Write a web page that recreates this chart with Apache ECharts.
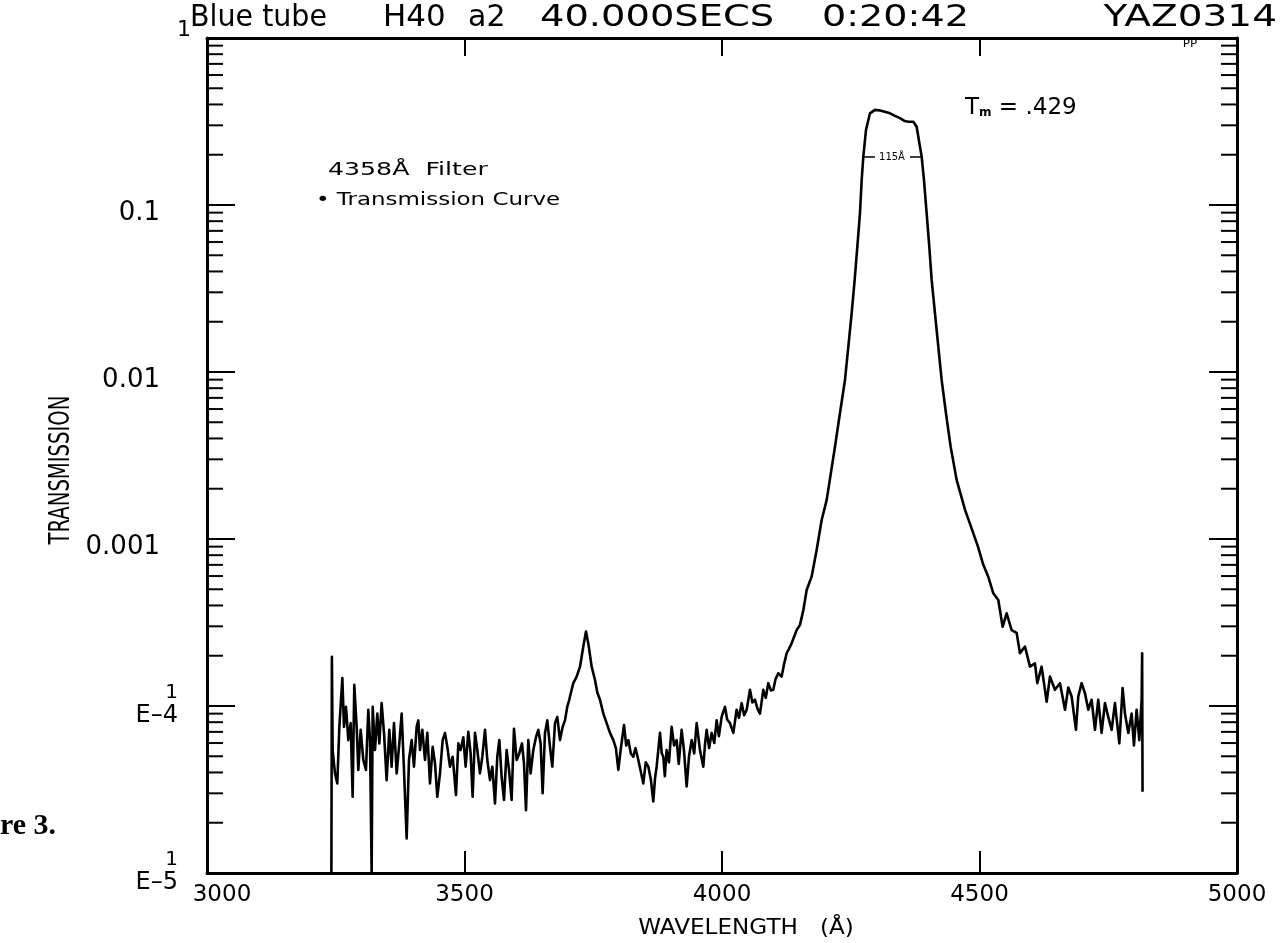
<!DOCTYPE html>
<html>
<head>
<meta charset="utf-8">
<title>4358 Å filter transmission</title>
<script src="https://cdn.jsdelivr.net/npm/echarts@6/dist/echarts.min.js"></script>
<style>
html, body { margin: 0; padding: 0; background: #fff; }
#chart { width: 1281px; height: 943px; }
</style>
</head>
<body>
<div id="chart"></div>
<script>
// axis ticks
const xTickValues = [3000, 3500, 4000, 4500, 5000];
const xTickLabels = ['3000', '3500', '4000', '4500', '5000'];
const yTickExponents = [-5, -4, -3, -2, -1, 0];
const yTickLabels = ['E–5', 'E–4', '0.001', '0.01', '0.1', '1'];
const minorMultipliers = [2, 3, 4, 5, 6, 7, 8, 9];
const decades = [1e-5, 1e-4, 1e-3, 1e-2, 1e-1];

// spectrum, [wavelength (Å), transmission]
const blueNoise = [
  [3241.5, 1.0e-5], [3242.5, 1.97e-4], [3244, 5.4e-5], [3248.5, 3.95e-5], [3253, 3.44e-5],
  [3257, 7.5e-5], [3262.8, 1.47e-4], [3266, 7.5e-5], [3269.9, 9.9e-5], [3274.4, 6.25e-5],
  [3279, 7.9e-5], [3282.8, 2.86e-5], [3286, 1.34e-4], [3290.6, 7.5e-5], [3293.8, 4.14e-5],
  [3298.4, 7.2e-5], [3303.5, 4.75e-5], [3308.7, 4.14e-5], [3313.2, 9.5e-5], [3316.5, 6.25e-5],
  [3319.7, 1.0e-5], [3321.7, 9.9e-5], [3326.2, 5.45e-5], [3330.7, 9.0e-5], [3334.6, 5.97e-5],
  [3339.1, 1.04e-4], [3343.7, 6.9e-5], [3348.8, 3.6e-5], [3354, 7.2e-5], [3358.5, 4.33e-5],
  [3363.1, 7.9e-5], [3368.3, 3.95e-5], [3373.4, 5.97e-5], [3378, 9.0e-5], [3382.5, 4.14e-5],
  [3387.7, 1.61e-5], [3392.2, 4.75e-5], [3397.4, 6.25e-5], [3401.9, 4.33e-5], [3407.1, 7.5e-5],
  [3410.3, 8.2e-5], [3413.6, 5.45e-5], [3418.1, 7.2e-5], [3423.3, 4.75e-5], [3427.8, 6.9e-5],
  [3433, 3.44e-5], [3438.2, 5.7e-5], [3442.7, 4.54e-5], [3447.2, 2.86e-5], [3452.4, 3.95e-5],
  [3457.6, 6.25e-5], [3462.1, 6.9e-5], [3466.6, 5.7e-5], [3471.8, 4.33e-5], [3477, 4.97e-5],
  [3483.5, 2.93e-5], [3488, 5.97e-5], [3492.5, 5.45e-5], [3497.7, 6.5e-5], [3502.2, 4.33e-5],
  [3507.4, 7.0e-5], [3511.9, 5.2e-5], [3515.8, 2.86e-5], [3520.4, 6.9e-5], [3524.9, 5.45e-5],
  [3530, 3.95e-5], [3534.6, 4.97e-5], [3539.8, 7.2e-5], [3544.3, 4.75e-5], [3549.5, 3.6e-5],
  [3554, 4.33e-5], [3559.2, 2.61e-5], [3563.7, 4.97e-5], [3567.6, 6.25e-5], [3572.1, 3.77e-5],
  [3576.7, 2.74e-5], [3581.8, 5.45e-5], [3586.4, 4.14e-5], [3591.5, 2.74e-5], [3596.1, 7.3e-5],
  [3601.3, 4.75e-5], [3606.4, 5.2e-5], [3611.6, 5.97e-5], [3615.5, 4.54e-5], [3619.4, 2.38e-5],
  [3623.9, 6.25e-5], [3628.4, 3.95e-5], [3633.6, 5.45e-5], [3638.8, 6.5e-5], [3643.3, 7.2e-5],
  [3647.8, 5.97e-5], [3651.7, 3.0e-5], [3656.3, 6.9e-5], [3660.8, 8.2e-5], [3666, 5.7e-5],
  [3670.5, 4.33e-5], [3675.7, 7.9e-5], [3680.2, 8.6e-5], [3685.4, 6.25e-5], [3690.6, 7.5e-5],
  [3695.1, 8.2e-5], [3699.6, 9.9e-5], [3703.5, 1.09e-4]
];
const bump3736 = [
  [3704.8, 1.14e-4], [3711.3, 1.37e-4], [3717.8, 1.5e-4], [3724.3, 1.72e-4], [3730.7, 2.27e-4],
  [3735.9, 2.79e-4], [3740.4, 2.37e-4], [3746.9, 1.72e-4], [3753.4, 1.43e-4], [3758, 1.2e-4],
  [3763.1, 1.09e-4], [3769.6, 9.0e-5], [3776, 7.9e-5], [3782.5, 6.9e-5], [3789, 6.25e-5],
  [3794, 5.6e-5], [3798.7, 4.14e-5], [3803.2, 5.45e-5], [3809.7, 7.7e-5], [3814, 5.8e-5],
  [3818.1, 6.25e-5], [3823, 5.2e-5], [3827.8, 4.97e-5]
];
const midNoise = [
  [3832, 5.6e-5], [3837.5, 4.75e-5], [3842, 4.1e-5], [3847.2, 3.44e-5], [3852, 4.6e-5],
  [3857, 4.33e-5], [3862, 3.6e-5], [3866.6, 2.68e-5], [3870, 3.7e-5], [3873.1, 4.33e-5],
  [3879.6, 6.9e-5], [3883, 5.2e-5], [3886, 4.97e-5], [3889, 3.8e-5], [3892.5, 5.45e-5],
  [3897, 4.6e-5], [3902.2, 7.5e-5], [3907, 5.8e-5], [3912, 6.25e-5], [3916, 4.5e-5],
  [3921.6, 7.2e-5], [3926, 5.5e-5], [3931.4, 3.3e-5], [3936, 5.0e-5], [3941.1, 6.25e-5],
  [3946, 5.2e-5], [3950.8, 7.9e-5], [3957.2, 5.45e-5], [3963.7, 4.33e-5], [3967, 5.9e-5],
  [3970.2, 7.2e-5], [3975, 5.6e-5], [3979.9, 6.9e-5], [3985, 6.0e-5], [3989.6, 8.2e-5],
  [3994, 6.6e-5], [3999.3, 8.6e-5], [4005.8, 9.9e-5], [4010, 8.3e-5], [4015.5, 7.9e-5],
  [4022, 6.9e-5], [4028.4, 9.5e-5], [4033, 8.5e-5], [4038.2, 1.04e-4], [4043, 8.8e-5],
  [4047.9, 9.5e-5], [4054.3, 1.25e-4], [4059, 1.05e-4], [4064, 1.09e-4], [4069, 9.6e-5],
  [4073.7, 9.0e-5], [4080.2, 1.25e-4], [4085, 1.12e-4], [4089.9, 1.37e-4], [4095, 1.24e-4],
  [4099.6, 1.25e-4], [4104, 1.45e-4], [4109.3, 1.57e-4], [4115.8, 1.5e-4], [4120, 1.75e-4],
  [4125.5, 2.07e-4], [4130, 2.2e-4], [4135.2, 2.37e-4], [4140, 2.6e-4], [4145, 2.85e-4],
  [4151.4, 3.06e-4]
];
const passband = [
  [4158, 3.76e-4], [4164.4, 4.95e-4], [4174, 5.95e-4], [4183.8, 8.6e-4], [4193.5, 1.3e-3],
  [4203.2, 1.71e-3], [4219.4, 3.57e-3], [4229, 5.66e-3], [4238.8, 8.96e-3], [4245.3, 0.0142],
  [4251.7, 0.0224], [4257.6, 0.0356], [4262.8, 0.0563], [4267.9, 0.0892], [4271.2, 0.141],
  [4274.4, 0.195], [4279.6, 0.281], [4287.3, 0.354], [4297, 0.371], [4306.8, 0.368],
  [4316, 0.362], [4326.2, 0.354], [4335, 0.343], [4345.6, 0.331], [4355, 0.318],
  [4361.8, 0.315], [4371.5, 0.315], [4378, 0.294], [4384.4, 0.223], [4387.7, 0.195],
  [4392.2, 0.141], [4397.4, 0.0892], [4402.5, 0.0563], [4407.1, 0.0356], [4413.6, 0.0224],
  [4416.8, 0.0178], [4426.5, 8.96e-3], [4434.9, 5.66e-3], [4439.4, 4.5e-3], [4444, 3.57e-3],
  [4455.6, 2.26e-3], [4471.8, 1.5e-3], [4485, 1.15e-3], [4497, 9.0e-4], [4507.4, 7.0e-4]
];
const redNoise = [
  [4517, 5.95e-4], [4526.8, 4.73e-4], [4536.5, 4.31e-4], [4544.9, 2.98e-4], [4552.7, 3.59e-4],
  [4562.4, 2.85e-4], [4572.1, 2.74e-4], [4578.6, 2.07e-4], [4588.3, 2.27e-4], [4598, 1.72e-4],
  [4607.7, 1.8e-4], [4612.2, 1.37e-4], [4620.6, 1.72e-4], [4630.4, 1.06e-4], [4636.8, 1.5e-4],
  [4646.5, 1.25e-4], [4656.3, 1.37e-4], [4666, 9.5e-5], [4672.4, 1.29e-4], [4678.9, 1.14e-4],
  [4687.3, 7.2e-5], [4691.8, 1.14e-4], [4698.3, 1.37e-4], [4704.8, 1.19e-4], [4711.3, 9.5e-5],
  [4717.7, 1.09e-4], [4724.2, 7.2e-5], [4730.6, 1.09e-4], [4737.1, 6.9e-5], [4743.6, 1.04e-4],
  [4750, 8.6e-5], [4756.6, 7.2e-5], [4763, 1.04e-4], [4771.5, 5.97e-5], [4777.9, 1.28e-4],
  [4782.5, 9.0e-5], [4788.9, 6.9e-5], [4795.4, 9.0e-5], [4799.9, 5.8e-5], [4805.1, 9.5e-5],
  [4810.3, 6.25e-5], [4814.8, 1.09e-4], [4815.8, 2.07e-4], [4816.6, 3.07e-5]
];

const spectrum = blueNoise.concat(bump3736, midNoise, passband, redNoise);
const minorTicks = [];
decades.forEach(d => minorMultipliers.forEach(m => minorTicks.push([3000, m * d])));

const FONT = 'DejaVu Sans';
const chart = echarts.init(document.getElementById('chart'));

const frameLine = { lineStyle: { color: '#000', width: 3 } };

function label(text, x, y, size, sx, extra) {
  return Object.assign({
    type: 'text', x: x, y: y, scaleX: sx || 1,
    style: { text: text, font: size + 'px "DejaVu Sans"', fill: '#000', textVerticalAlign: 'middle' }
  }, extra || {});
}

const option = {
  animation: false,
  backgroundColor: '#fff',
  grid: { left: 207, right: 44, top: 38, bottom: 70 },
  xAxis: [
    {
      type: 'value', min: 3000, max: 5000, interval: 500, position: 'bottom',
      axisLine: frameLine,
      axisTick: { inside: true, length: 22, lineStyle: { color: '#000', width: 2 } },
      splitLine: { show: false },
      axisLabel: {
        margin: 11, color: '#000', fontFamily: FONT, fontSize: 23,
        formatter: function(v) {
          const i = xTickValues.indexOf(v);
          return i === 0 ? '{first|' + xTickLabels[i] + '}' : xTickLabels[i];
        },
        rich: { first: { padding: [0, 0, 0, 30], fontFamily: FONT, fontSize: 23, color: '#000' } }
      }
    },
    {
      type: 'value', min: 3000, max: 5000, interval: 500, position: 'top',
      axisLine: frameLine,
      axisTick: { inside: true, length: 18, lineStyle: { color: '#000', width: 2 } },
      splitLine: { show: false },
      axisLabel: { show: false }
    }
  ],
  yAxis: [
    {
      type: 'log', logBase: 10, min: 1e-5, max: 1, splitNumber: 5, position: 'left',
      axisLine: frameLine,
      axisTick: { inside: true, length: 28, lineStyle: { color: '#000', width: 2 } },
      splitLine: { show: false },
      axisLabel: {
        margin: 14, color: '#000', fontFamily: FONT, fontSize: 25,
        formatter: function(v) {
          const exp = Math.round(Math.log10(v));
          const text = yTickLabels[yTickExponents.indexOf(exp)];
          if (exp === 0) return '{top|' + text + '}';
          if (exp <= -4) return '{sup|1}\n{e|' + text + '}';
          return '{dec|' + text + '}';
        },
        rich: {
          top: { fontFamily: FONT, fontSize: 22, color: '#000', padding: [0, 2, 16, 0] },
          dec: { fontFamily: FONT, fontSize: 26, color: '#000', padding: [16, 33, 0, 0] },
          sup: { fontFamily: FONT, fontSize: 20, color: '#000', lineHeight: 20, padding: [0, 15, 0, 0], align: 'right' },
          e: { fontFamily: FONT, fontSize: 24, color: '#000', lineHeight: 26, padding: [0, 15, 0, 0], align: 'right' }
        }
      }
    },
    {
      type: 'log', logBase: 10, min: 1e-5, max: 1, splitNumber: 5, position: 'right',
      axisLine: frameLine,
      axisTick: { inside: true, length: 28, lineStyle: { color: '#000', width: 2 } },
      splitLine: { show: false },
      axisLabel: { show: false }
    }
  ],
  graphic: [
    // title line
    label('Blue tube', 190, 18, 30, 0.95),
    label('H40', 383, 18, 30, 1.03),
    label('a2', 468, 18, 30, 1),
    label('40.000SECS', 540, 18, 30, 1.28),
    label('0:20:42', 822, 18, 30, 1.27),
    label('YAZ0314', 1277, 18, 30, 1.3, {
      style: { text: 'YAZ0314', font: '30px "DejaVu Sans"', fill: '#000', textAlign: 'right', textVerticalAlign: 'middle' }
    }),
    // axis names
    {
      type: 'text', x: 62, y: 470, rotation: Math.PI / 2, scaleX: 0.78,
      style: { text: 'TRANSMISSION', font: '28px "DejaVu Sans Condensed", "DejaVu Sans"', fill: '#000', textAlign: 'center', textVerticalAlign: 'middle' }
    },
    label('WAVELENGTH   (Å)', 746, 928, 22, 1.05, {
      style: { text: 'WAVELENGTH   (Å)', font: '22px "DejaVu Sans"', fill: '#000', textAlign: 'center', textVerticalAlign: 'middle' }
    }),
    {
      type: 'text', x: 0, y: 826,
      style: { text: 're 3.', font: 'bold 30px "Liberation Serif"', fill: '#000', textVerticalAlign: 'middle' }
    },
    // notes inside the frame
    label('4358Å  Filter', 328, 170, 18, 1.4),
    label('• Transmission Curve', 316, 201, 17, 1.35),
    {
      type: 'text', x: 965, y: 108,
      style: {
        text: 'T{sub|m} = .429', font: '23px "DejaVu Sans"', fill: '#000', textVerticalAlign: 'middle',
        rich: { sub: { font: 'bold 12px "DejaVu Sans"', fill: '#000', padding: [10, 0, 0, 0] } }
      }
    },
    label('115Å', 892, 157, 10, 1, {
      style: { text: '115Å', font: '10px "DejaVu Sans"', fill: '#000', textAlign: 'center', textVerticalAlign: 'middle' }
    }),
    { type: 'line', shape: { x1: 864, y1: 157, x2: 875, y2: 157 }, style: { stroke: '#000', lineWidth: 1.5 } },
    { type: 'line', shape: { x1: 910, y1: 157, x2: 921, y2: 157 }, style: { stroke: '#000', lineWidth: 1.5 } },
    label('PP', 1190, 44, 10, 1.2, {
      style: { text: 'PP', font: '10px "DejaVu Sans"', fill: '#000', textAlign: 'center', textVerticalAlign: 'middle' }
    })
  ],
  series: [
    {
      type: 'line',
      data: spectrum,
      showSymbol: false,
      clip: false,
      lineStyle: { color: '#000', width: 2.6, join: 'round' },
      z: 3
    },
    {
      // 2..9 minor ticks inside both vertical frame lines
      type: 'custom',
      data: minorTicks,
      silent: true,
      clip: false,
      renderItem: function(params, api) {
        const v = api.value(1);
        const l = api.coord([3000, v]);
        const r = api.coord([5000, v]);
        return {
          type: 'group',
          children: [
            { type: 'line', shape: { x1: l[0], y1: l[1], x2: l[0] + 16, y2: l[1] }, style: { stroke: '#000', lineWidth: 2 } },
            { type: 'line', shape: { x1: r[0] - 16, y1: r[1], x2: r[0], y2: r[1] }, style: { stroke: '#000', lineWidth: 2 } }
          ]
        };
      }
    }
  ]
};

chart.setOption(option);
window.addEventListener('resize', function() {
  chart.resize();
});
</script>
</body>
</html>
